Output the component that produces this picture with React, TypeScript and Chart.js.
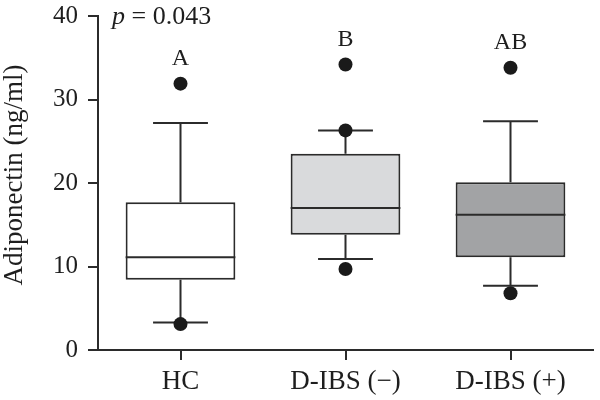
import React, { useEffect, useRef } from "react";
import { Chart, registerables } from "chart.js";

Chart.register(...registerables);

const categories = ["HC", "D-IBS (−)", "D-IBS (+)"];
const whiskerLow = [3.3, 10.9, 7.7];
const q1 = [8.4, 13.8, 11.1];
const median = [11.1, 17.0, 16.2];
const q3 = [17.7, 23.5, 20.1];
const whiskerHigh = [27.2, 26.3, 27.4];
const outlierTop = [31.9, 34.2, 33.8];
const outlierMid = [null, 26.3, null];
const outlierLow = [3.1, 9.7, 6.8];
const groupLetters = ["A", "B", "AB"];
const yMin = 0;
const yMax = 40;
const yStep = 10;
const yTitle = "Adiponectin (ng/ml)";
const pLabel = "p";
const pValueText = " = 0.043";
const boxColors = ["#ffffff", "#d9dadc", "#a2a3a5"];

const SERIF = "'Liberation Serif', 'DejaVu Serif', serif";
const INK = "#2b2b2b";
const BOX_INDEX = 3;

function boxWidth(chart: any, i: number) {
  const meta = chart.getDatasetMeta(BOX_INDEX);
  const el = meta && meta.data[i];
  return el && isFinite(el.width) ? el.width : 110;
}

const boxPlugin = {
  id: "boxParts",
  beforeDatasetsDraw(chart: any) {
    const { ctx } = chart;
    const xs = chart.scales.x;
    const ys = chart.scales.y;
    ctx.save();
    ctx.strokeStyle = INK;
    ctx.lineWidth = 2;
    categories.forEach((_, i) => {
      const x = xs.getPixelForValue(i);
      const half = boxWidth(chart, i) / 4;
      const yHi = ys.getPixelForValue(whiskerHigh[i]);
      const yQ3 = ys.getPixelForValue(q3[i]);
      const yQ1 = ys.getPixelForValue(q1[i]);
      const yLo = ys.getPixelForValue(whiskerLow[i]);
      ctx.beginPath();
      ctx.moveTo(x, yQ3);
      ctx.lineTo(x, yHi);
      ctx.moveTo(x - half, yHi);
      ctx.lineTo(x + half, yHi);
      ctx.moveTo(x, yQ1);
      ctx.lineTo(x, yLo);
      ctx.moveTo(x - half, yLo);
      ctx.lineTo(x + half, yLo);
      ctx.stroke();
    });
    ctx.restore();
  },
  afterDatasetsDraw(chart: any) {
    const { ctx } = chart;
    const xs = chart.scales.x;
    const ys = chart.scales.y;
    ctx.save();
    ctx.strokeStyle = INK;
    ctx.lineWidth = 2;
    categories.forEach((_, i) => {
      const x = xs.getPixelForValue(i);
      const w = boxWidth(chart, i);
      const y = ys.getPixelForValue(median[i]);
      ctx.beginPath();
      ctx.moveTo(x - w / 2, y);
      ctx.lineTo(x + w / 2, y);
      ctx.stroke();
    });
    // group letters
    ctx.fillStyle = "#1e1e1e";
    ctx.font = `24px ${SERIF}`;
    ctx.textAlign = "center";
    ctx.textBaseline = "middle";
    categories.forEach((_, i) => {
      const x = xs.getPixelForValue(i);
      const y = ys.getPixelForValue(outlierTop[i]) - 25;
      ctx.fillText(groupLetters[i], x, y);
    });
    // p value
    const area = chart.chartArea;
    const px = area.left + 14;
    const py = area.top + 1;
    ctx.textAlign = "left";
    ctx.font = `italic 26px ${SERIF}`;
    ctx.fillText(pLabel, px, py);
    const pw = ctx.measureText(pLabel).width;
    ctx.font = `26px ${SERIF}`;
    ctx.fillText(pValueText, px + pw, py);
    // y title
    ctx.save();
    ctx.translate(15, 175);
    ctx.rotate(-Math.PI / 2);
    ctx.textAlign = "center";
    ctx.textBaseline = "middle";
    ctx.font = `27px ${SERIF}`;
    ctx.fillText(yTitle, 0, 0);
    ctx.restore();
    ctx.restore();
  },
};

const pointStyle = {
  type: "line",
  showLine: false,
  pointRadius: 7,
  pointBackgroundColor: "#1a1a1a",
  pointBorderColor: "#1a1a1a",
  pointBorderWidth: 0,
};

export default function App() {
  const canvasRef = useRef<HTMLCanvasElement | null>(null);

  useEffect(() => {
    if (!canvasRef.current) return;
    const chart = new Chart(canvasRef.current, {
      type: "bar",
      data: {
        labels: categories,
        datasets: [
          { ...pointStyle, label: "outliers top", data: outlierTop as any } as any,
          { ...pointStyle, label: "outliers mid", data: outlierMid as any } as any,
          { ...pointStyle, label: "outliers low", data: outlierLow as any } as any,
          {
            type: "bar",
            label: "box",
            data: categories.map((_, i) => [q1[i], q3[i]]) as any,
            backgroundColor: boxColors,
            borderColor: INK,
            borderWidth: 2,
            borderSkipped: false,
            barPercentage: 0.665,
            categoryPercentage: 1,
          } as any,
        ],
      },
      options: {
        animation: false,
        responsive: true,
        maintainAspectRatio: false,
        layout: { padding: { top: 16, right: 0, left: 0, bottom: 0 } },
        plugins: {
          legend: { display: false },
          tooltip: { enabled: false },
        },
        scales: {
          x: {
            type: "category",
            offset: true,
            grid: {
              offset: false,
              drawOnChartArea: false,
              drawTicks: true,
              tickLength: 10,
              color: INK,
              lineWidth: 2,
            },
            border: { display: true, color: INK, width: 2 },
            ticks: {
              color: "#1e1e1e",
              font: { family: SERIF, size: 27 },
              padding: 6,
              maxRotation: 0,
              autoSkip: false,
            },
            afterFit: (s: any) => {
              s.height = 50;
              s.paddingLeft = 0;
              s.paddingRight = 0;
            },
          },
          y: {
            min: yMin,
            max: yMax,
            grid: {
              drawOnChartArea: false,
              drawTicks: true,
              tickLength: 10,
              color: INK,
              lineWidth: 2,
            },
            border: { display: true, color: INK, width: 2 },
            ticks: {
              stepSize: yStep,
              color: "#1e1e1e",
              font: { family: SERIF, size: 25 },
              padding: 10,
            },
            afterFit: (s: any) => {
              s.width = 98;
              s.paddingTop = 4;
              s.paddingBottom = 0;
            },
          },
        },
      } as any,
      plugins: [boxPlugin],
    });
    return () => chart.destroy();
  }, []);

  return (
    <div style={{ position: "fixed", left: 0, top: 0, width: 600, height: 400, background: "#fff" }}>
      <canvas ref={canvasRef} />
    </div>
  );
}
